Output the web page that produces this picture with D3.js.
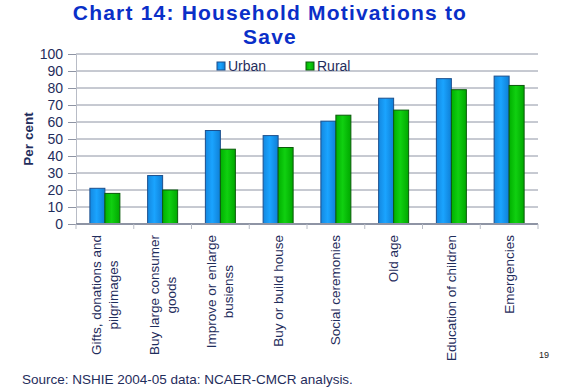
<!DOCTYPE html>
<html>
<head>
<meta charset="utf-8">
<title>Chart 14</title>
<script src="https://d3js.org/d3.v7.min.js"></script>
<style>
  body { margin: 0; background: #fff; }
  text { font-family: "Liberation Sans", Arial, sans-serif; }
</style>
</head>
<body>
<svg width="576" height="392"></svg>
<script>
// data
var categories = ["Gifts, donations and|pilgrimages", "Buy large consumer|goods",
  "Improve or enlarge|busienss", "Buy or build house", "Social ceremonies",
  "Old age", "Education of children", "Emergencies"];
var urban = [21, 28.5, 55, 52, 60.5, 74, 85.5, 87];
var rural = [18, 20, 44, 45, 64, 67, 79, 81.5];
var seriesNames = ["Urban", "Rural"];
var yTicks = [0, 10, 20, 30, 40, 50, 60, 70, 80, 90, 100];

var svg = d3.select("svg");
var margin = {top: 54, left: 76, right: 38, bottom: 168};
var width = 576 - margin.left - margin.right,
    height = 392 - margin.top - margin.bottom;

var navy = "#1f2d5c";
var grid = "#8e94a4";

// gradients for the slight 3d look
var defs = svg.append("defs");
function grad(id, c1, c2, c3) {
  var g = defs.append("linearGradient").attr("id", id)
    .attr("x1", "0%").attr("x2", "100%").attr("y1", "0%").attr("y2", "0%");
  g.append("stop").attr("offset", "0%").attr("stop-color", c1);
  g.append("stop").attr("offset", "45%").attr("stop-color", c2);
  g.append("stop").attr("offset", "100%").attr("stop-color", c3);
}
grad("gBlue", "#1488e0", "#1aa4ff", "#0f7fd6");
grad("gGreen", "#00b000", "#10d010", "#00a800");

// title
svg.append("text").attr("x", 270).attr("y", 20).attr("text-anchor", "middle")
  .attr("font-size", 21).attr("font-weight", "bold").attr("fill", "#0a2fc8")
  .attr("letter-spacing", 1.2)
  .text("Chart 14: Household Motivations to");
svg.append("text").attr("x", 270).attr("y", 44).attr("text-anchor", "middle")
  .attr("font-size", 21).attr("font-weight", "bold").attr("fill", "#0a2fc8")
  .attr("letter-spacing", 1.2)
  .text("Save");

var g = svg.append("g").attr("transform", "translate(" + margin.left + "," + margin.top + ")");

var x = d3.scaleBand().domain(categories).range([0, width]).paddingInner(0).paddingOuter(0);
var x1 = d3.scaleBand().domain(seriesNames).range([x.bandwidth() / 2 - 15, x.bandwidth() / 2 + 15]);
var y = d3.scaleLinear().domain([0, 100]).range([height, 0]);

// gridlines
g.append("g").selectAll("line").data(yTicks.slice(1)).enter().append("line")
  .attr("x1", 0).attr("x2", width)
  .attr("y1", function(d) { return y(d); }).attr("y2", function(d) { return y(d); })
  .attr("stroke", grid).attr("stroke-width", 1);

// y axis
var yAxis = g.append("g").call(d3.axisLeft(y).tickValues(yTicks).tickSize(8).tickPadding(5));
yAxis.select(".domain").attr("stroke", "#b8bcc6");
yAxis.selectAll(".tick line").attr("stroke", grid);
yAxis.selectAll("text").attr("font-size", 14).attr("fill", navy)
  .attr("font-family", "Liberation Sans, Arial, sans-serif");

svg.append("text").attr("transform", "translate(33,139) rotate(-90)")
  .attr("text-anchor", "middle").attr("font-size", 13.5).attr("font-weight", "bold")
  .attr("fill", navy).text("Per cent");

// bars
var groups = g.append("g").selectAll("g").data(categories).enter().append("g")
  .attr("transform", function(d) { return "translate(" + x(d) + ",0)"; });

groups.append("rect")
  .attr("x", x1("Urban")).attr("width", x1.bandwidth())
  .attr("y", function(d, i) { return y(urban[i]); })
  .attr("height", function(d, i) { return height - y(urban[i]); })
  .attr("fill", "url(#gBlue)").attr("stroke", "#1d4f8c").attr("stroke-width", 1);
groups.append("rect")
  .attr("x", x1("Rural")).attr("width", x1.bandwidth())
  .attr("y", function(d, i) { return y(rural[i]); })
  .attr("height", function(d, i) { return height - y(rural[i]); })
  .attr("fill", "url(#gGreen)").attr("stroke", "#0b5a0b").attr("stroke-width", 1);

// x axis line + ticks at category boundaries
g.append("line").attr("x1", 0).attr("x2", width).attr("y1", height).attr("y2", height)
  .attr("stroke", grid).attr("stroke-width", 2);
g.append("g").selectAll("line").data(d3.range(categories.length + 1)).enter().append("line")
  .attr("x1", function(i) { return i * x.bandwidth(); })
  .attr("x2", function(i) { return i * x.bandwidth(); })
  .attr("y1", height).attr("y2", height + 5)
  .attr("stroke", "#b8bcc6");

// category labels, rotated, block anchored near the axis
categories.forEach(function(c) {
  var lines = c.split("|");
  var cx = x(c) + x.bandwidth() / 2;
  var lab = g.append("g");
  var texts = lines.map(function(t, j) {
    return lab.append("text").attr("font-size", 13.5).attr("fill", navy)
      .attr("text-anchor", "middle").text(t);
  });
  var maxW = d3.max(texts, function(t) { return t.node().getComputedTextLength(); });
  var top = height + 11;
  texts.forEach(function(t, j) {
    var off = (j - (lines.length - 1) / 2) * 17;
    t.attr("transform", "translate(" + (cx + off + 4.5) + "," + (top + maxW / 2) + ") rotate(-90)");
  });
});

// legend
var legend = svg.append("g").attr("transform", "translate(217,62)");
[["Urban", "url(#gBlue)", "#1d4f8c", 0], ["Rural", "url(#gGreen)", "#0b5a0b", 89]].forEach(function(l) {
  legend.append("rect").attr("x", l[3]).attr("y", 0).attr("width", 8).attr("height", 8)
    .attr("fill", l[1]).attr("stroke", l[2]);
  legend.append("text").attr("x", l[3] + 11).attr("y", 9).attr("font-size", 14)
    .attr("fill", navy).text(l[0]);
});

// footer
svg.append("text").attr("x", 22).attr("y", 384).attr("font-size", 13.5).attr("fill", navy)
  .text("Source: NSHIE 2004-05 data: NCAER-CMCR analysis.");
svg.append("text").attr("x", 539).attr("y", 358).attr("font-size", 9)
  .attr("font-family", "Liberation Serif, Times New Roman, serif").attr("fill", "#222")
  .text("19");
</script>
</body>
</html>
